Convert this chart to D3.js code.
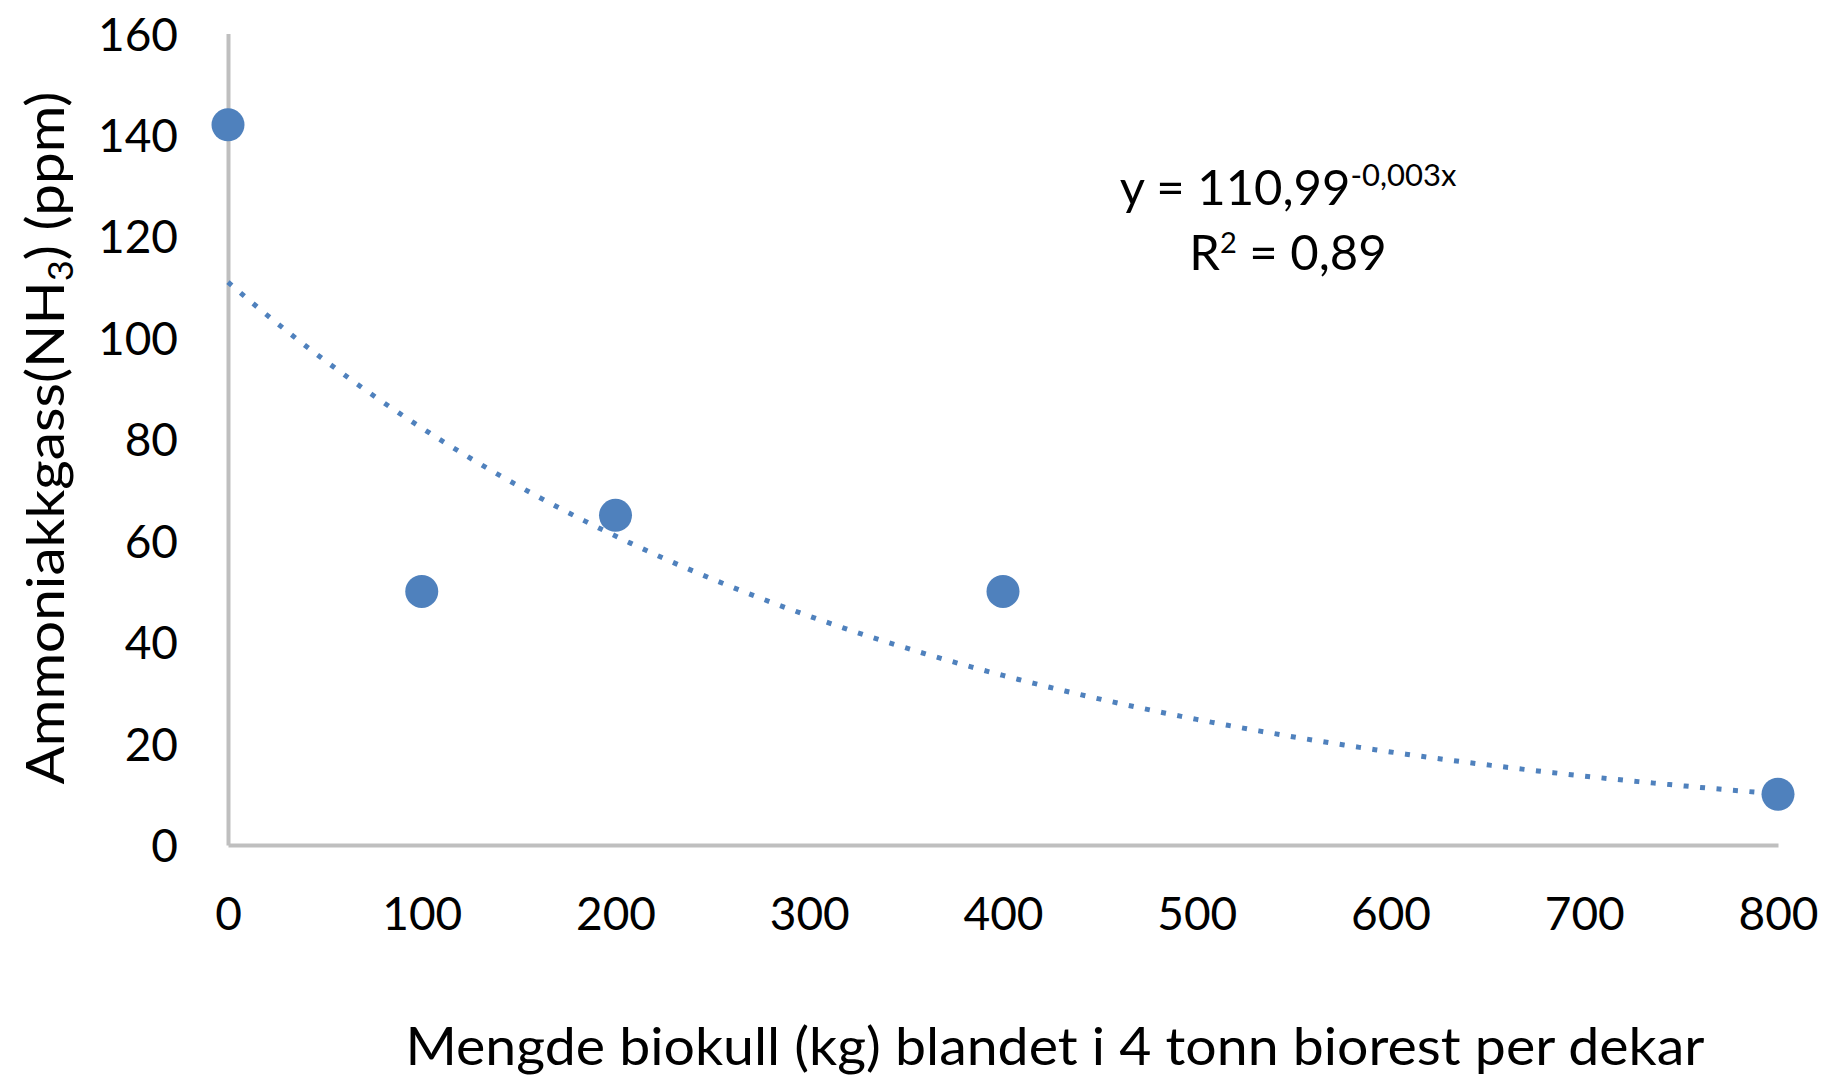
<!DOCTYPE html>
<html>
<head>
<meta charset="utf-8">
<script src="https://cdn.jsdelivr.net/npm/d3@7"></script>
<style>
  html, body { margin: 0; padding: 0; background: #fff; }
  svg { display: block; }
  text { font-family: Lato, "Open Sans", sans-serif; fill: #000; }
</style>
</head>
<body>
<svg id="chart" width="1829" height="1080"></svg>
<script>
// Biochar dose (kg per decare, mixed into 4 t digestate) and measured ammonia gas
const biocharKg = [0, 100, 200, 400, 800];
const ammoniaPpm = [142, 50, 65, 50, 10];

// Axis ticks
const xTickValues = [0, 100, 200, 300, 400, 500, 600, 700, 800];
const yTickValues = [0, 20, 40, 60, 80, 100, 120, 140, 160];

// Exponential trendline y = a·e^(b·x), as given in the equation label
const trendA = 110.99;
const trendB = -0.003;
const trendR2 = "0,89";

const xTitle = "Mengde biokull (kg) blandet i 4 tonn biorest per dekar";

const svg = d3.select("#chart");
const blue = "#4f81bd";
const axisGrey = "#bfbfbf";

const x = d3.scaleLinear().domain([0, 800]).range([228, 1778]);
const y = d3.scaleLinear().domain([0, 160]).range([845, 33.5]);

// Axes (no tick marks, grey domain lines)
const xAxis = svg.append("g")
  .attr("transform", `translate(0,${y(0)})`)
  .call(d3.axisBottom(x).tickValues(xTickValues).tickSize(0).tickSizeOuter(0).tickPadding(52));
const yAxis = svg.append("g")
  .attr("transform", `translate(${x(0)},0)`)
  .call(d3.axisLeft(y).tickValues(yTickValues).tickSize(0).tickSizeOuter(0).tickPadding(50));

[xAxis, yAxis].forEach(g => {
  g.select(".domain").attr("stroke", axisGrey).attr("stroke-width", 4);
  g.selectAll("text")
    .style("font-family", 'Lato, "Open Sans", sans-serif')
    .attr("font-size", 46)
    .attr("fill", "#000");
});
yAxis.selectAll("text").attr("dy", "0.36em");

// Trendline (dotted)
const trendData = d3.range(0, 801, 4).map(v => [v, trendA * Math.exp(trendB * v)]);
svg.append("path")
  .datum(trendData)
  .attr("fill", "none")
  .attr("stroke", blue)
  .attr("stroke-width", 5)
  .attr("stroke-dasharray", "5 11.5")
  .attr("d", d3.line().x(d => x(d[0])).y(d => y(d[1])));

// Data points
svg.append("g")
  .selectAll("circle")
  .data(biocharKg.map((v, i) => [v, ammoniaPpm[i]]))
  .join("circle")
  .attr("cx", d => x(d[0]))
  .attr("cy", d => y(d[1]))
  .attr("r", 16.5)
  .attr("fill", blue);

// Trendline equation and R²
const eq = svg.append("text")
  .attr("x", 1288).attr("y", 205)
  .attr("text-anchor", "middle")
  .attr("font-size", 49);
eq.append("tspan").text("y = 110,99");
eq.append("tspan").attr("font-size", 31).attr("dy", -19).text("-0,003x");

const r2 = svg.append("text")
  .attr("x", 1288).attr("y", 270)
  .attr("text-anchor", "middle")
  .attr("font-size", 49);
r2.append("tspan").text("R");
r2.append("tspan").attr("font-size", 29).attr("dy", -17).text("2");
r2.append("tspan").attr("dy", 17).text(" = " + trendR2);

// X-axis title
svg.append("text")
  .attr("x", 1055).attr("y", 1065)
  .attr("text-anchor", "middle")
  .attr("font-size", 52)
  .attr("textLength", 1299)
  .attr("lengthAdjust", "spacingAndGlyphs")
  .text(xTitle);

// Y-axis title, rotated, with subscript
const yt = svg.append("text")
  .attr("transform", "translate(64,438) rotate(-90)")
  .attr("text-anchor", "middle")
  .attr("font-size", 53)
  .attr("textLength", 693)
  .attr("lengthAdjust", "spacingAndGlyphs");
yt.append("tspan").text("Ammoniakkgass(NH");
yt.append("tspan").attr("font-size", 34).attr("dy", 9).text("3");
yt.append("tspan").attr("dy", -9).text(") (ppm)");
</script>
</body>
</html>
